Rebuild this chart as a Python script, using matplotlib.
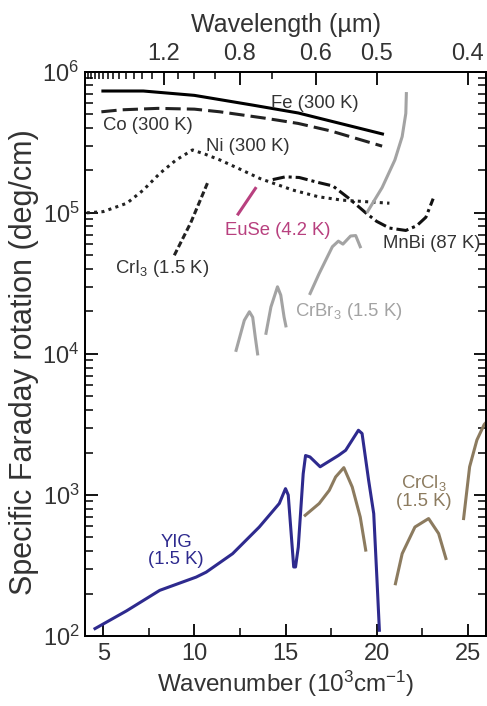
import matplotlib
matplotlib.use("Agg")
import matplotlib.pyplot as plt
from matplotlib.ticker import LogLocator, FixedLocator, NullFormatter, FixedFormatter

plt.rcParams['font.family'] = ['Liberation Sans', 'DejaVu Sans']
plt.rcParams['mathtext.fontset'] = 'custom'
plt.rcParams['mathtext.rm'] = 'Liberation Sans'
plt.rcParams['mathtext.it'] = 'Liberation Sans:italic'
plt.rcParams['mathtext.bf'] = 'Liberation Sans:bold'

# ---- data (wavenumber in 10^3 cm^-1, rotation in deg/cm) ----
fe_x = [4.9, 7.2, 10.0, 13.2, 15.7, 16.8, 20.4]
fe_y = [7.3e5, 7.3e5, 6.8e5, 5.8e5, 5.1e5, 4.7e5, 3.6e5]

co_x = [4.9, 6.0, 8.0, 10.0, 11.4, 13.9, 15.7, 17.5, 20.3]
co_y = [5.2e5, 5.37e5, 5.5e5, 5.43e5, 5.2e5, 4.68e5, 4.3e5, 3.8e5, 2.97e5]

ni_x = [4.1, 5.0, 6.3, 7.2, 8.1, 9.0, 9.9, 10.6, 11.4, 12.5, 13.6, 15.4, 16.8, 18.1, 20.7]
ni_y = [1.0e5, 1.02e5, 1.17e5, 1.45e5, 1.9e5, 2.37e5, 2.79e5, 2.6e5, 2.37e5, 2.04e5,
        1.75e5, 1.45e5, 1.3e5, 1.23e5, 1.17e5]

mnbi_x = [14.3, 15.0, 15.75, 16.8, 17.6, 18.5, 19.4, 20.0, 20.7, 21.6, 22.2, 22.7, 23.1]
mnbi_y = [1.72e5, 1.8e5, 1.78e5, 1.64e5, 1.55e5, 1.26e5, 1.0e5, 8.7e4, 7.8e4, 7.5e4,
          8.1e4, 9.3e4, 1.26e5]

cri3_x = [8.9, 9.8, 10.75]
cri3_y = [5.0e4, 8.5e4, 1.66e5]

euse_x = [12.4, 13.35]
euse_y = [9.8e4, 1.49e5]

crbr3_a_x = [12.29, 12.74, 13.02, 13.2, 13.34, 13.47]
crbr3_a_y = [1.06e4, 1.73e4, 1.99e4, 1.82e4, 1.32e4, 1.0e4]
crbr3_b_x = [13.93, 14.2, 14.56, 14.74, 14.92, 15.02]
crbr3_b_y = [1.4e4, 2.15e4, 2.99e4, 2.61e4, 1.83e4, 1.58e4]
crbr3_c_x = [16.35, 16.84, 17.2, 17.57, 17.9, 18.15, 18.57, 18.85, 19.1]
crbr3_c_y = [2.68e4, 3.7e4, 4.6e4, 5.75e4, 6.3e4, 6.0e4, 6.85e4, 6.9e4, 5.75e4]
crbr3_d_x = [19.5, 20.3, 21.0, 21.4, 21.6, 21.63]
crbr3_d_y = [1.02e5, 1.51e5, 2.37e5, 3.47e5, 5.07e5, 7.0e5]

yig_x = [4.55, 6.28, 8.1, 10.1, 10.65, 12.1, 13.56, 14.66, 15.0, 15.15, 15.45, 15.55,
         15.7, 15.97, 16.1, 16.34, 16.9, 17.9, 18.3, 19.0, 19.2, 19.56, 19.84, 20.02, 20.15]
yig_y = [113, 151, 211, 262, 284, 384, 593, 871, 1110, 1000, 309, 309,
         427, 1413, 1905, 1862, 1585, 1905, 2075, 2877, 2729, 1271, 738, 248, 110]

crcl3_a_x = [16.08, 16.85, 17.4, 17.75, 18.2, 18.66, 19.1, 19.4]
crcl3_a_y = [718, 871, 1079, 1343, 1563, 1140, 698, 407]
crcl3_b_x = [21.03, 21.4, 22.1, 22.85, 23.4, 23.8]
crcl3_b_y = [235, 384, 593, 681, 533, 355]
crcl3_c_x = [24.77, 25.1, 25.5, 25.9, 26.3]
crcl3_c_y = [681, 1585, 2455, 3162, 3600]

# top axis (wavelength, µm)
wl_major = [1.2, 0.8, 0.6, 0.5, 0.4]
wl_major_labels = ['1.2', '0.8', '0.6', '0.5', '0.4']
wl_minor = [2.4, 2.3, 2.2, 2.1, 2.0, 1.9, 1.8, 1.7, 1.6, 1.5, 1.4, 1.3, 1.1, 1.0, 0.9, 0.7]

# ---- styles ----
TXT = '#333333'
BLUE = '#2e2a8e'
BROWN = '#8c7b5f'
GRAY = '#a3a3a3'
MAG = '#b8407f'
LW = 2.2

fig = plt.figure(figsize=(4.87, 7.06), dpi=100)
ax = fig.add_axes([0.1745, 0.099, 0.8235, 0.7994])

ax.plot(fe_x, fe_y, color='black', lw=LW, solid_capstyle='butt')
ax.plot(co_x, co_y, color='#222222', lw=LW, dashes=(5, 2))
ax.plot(ni_x, ni_y, color='#222222', lw=LW, dashes=(1, 1.4))
ax.plot(mnbi_x, mnbi_y, color='#111111', lw=LW, dashes=(4, 1.3, 1, 1.3))
ax.plot(cri3_x, cri3_y, color='#222222', lw=LW, dashes=(2, 1))
ax.plot(euse_x, euse_y, color=MAG, lw=LW)
for xs, ys in [(crbr3_a_x, crbr3_a_y), (crbr3_b_x, crbr3_b_y),
               (crbr3_c_x, crbr3_c_y), (crbr3_d_x, crbr3_d_y)]:
    ax.plot(xs, ys, color=GRAY, lw=LW)
ax.plot(yig_x, yig_y, color=BLUE, lw=LW)
for xs, ys in [(crcl3_a_x, crcl3_a_y), (crcl3_b_x, crcl3_b_y), (crcl3_c_x, crcl3_c_y)]:
    ax.plot(xs, ys, color=BROWN, lw=LW)

ax.set_xlim(4, 26)
ax.set_yscale('log')
ax.set_ylim(1e2, 1e6)

ax.xaxis.set_major_locator(FixedLocator([5, 10, 15, 20, 25]))
ax.xaxis.set_minor_locator(FixedLocator([7.5, 12.5, 17.5, 22.5]))
ax.yaxis.set_major_locator(LogLocator(base=10, numticks=10))
ax.yaxis.set_minor_locator(LogLocator(base=10, subs=range(2, 10), numticks=20))
ax.yaxis.set_minor_formatter(NullFormatter())

ax.tick_params(axis='both', which='major', direction='in', length=9, width=1.3,
               labelsize=17, colors='black', labelcolor=TXT, right=True)
ax.tick_params(axis='both', which='minor', direction='in', length=6, width=1.1, right=True)
ax.tick_params(axis='x', which='major', pad=5)
ax.tick_params(axis='y', which='major', pad=4)
for s in ax.spines.values():
    s.set_linewidth(1.3)

ax.set_xlabel('Wavenumber (10$^3$cm$^{-1}$)', fontsize=17.5, color=TXT, labelpad=3)
ax.set_ylabel('Specific Faraday rotation (deg/cm)', fontsize=22, color=TXT)
ax.yaxis.set_label_coords(-0.115, 0.485)

top = ax.twiny()
top.set_xlim(ax.get_xlim())
top.xaxis.set_major_locator(FixedLocator([10.0 / w for w in wl_major]))
top.xaxis.set_major_formatter(FixedFormatter(wl_major_labels))
top.xaxis.set_minor_locator(FixedLocator([10.0 / w for w in wl_minor]))
top.tick_params(axis='x', which='major', direction='in', length=9, width=1.3,
                labelsize=17, labelcolor=TXT, pad=5)
top.tick_params(axis='x', which='minor', direction='in', length=5, width=1.1)
top.set_xlabel('Wavelength (µm)', fontsize=18, color=TXT, labelpad=8)
for s in top.spines.values():
    s.set_linewidth(1.3)

fs = 13.3
ax.text(14.22, 6.0e5, 'Fe (300 K)', fontsize=fs, color=TXT, ha='left', va='center')
ax.text(5.0, 4.19e5, 'Co (300 K)', fontsize=fs, color=TXT, ha='left', va='center')
ax.text(10.65, 2.97e5, 'Ni (300 K)', fontsize=fs, color=TXT, ha='left', va='center')
ax.text(11.7, 7.5e4, 'EuSe (4.2 K)', fontsize=fs, color=MAG, ha='left', va='center')
ax.text(5.64, 4.0e4, 'CrI$_3$ (1.5 K)', fontsize=fs, color=TXT, ha='left', va='center')
ax.text(20.34, 6.1e4, 'MnBi (87 K)', fontsize=fs, color=TXT, ha='left', va='center')
ax.text(15.53, 1.99e4, 'CrBr$_3$ (1.5 K)', fontsize=fs, color=GRAY, ha='left', va='center')
ax.text(9.0, 400, 'YIG\n(1.5 K)', fontsize=fs, color=BLUE, ha='center', va='center',
        linespacing=1.0)
ax.text(22.58, 1055, 'CrCl$_3$\n(1.5 K)', fontsize=fs, color=BROWN, ha='center', va='center',
        linespacing=1.0)

fig.savefig('out.png', dpi=100)
